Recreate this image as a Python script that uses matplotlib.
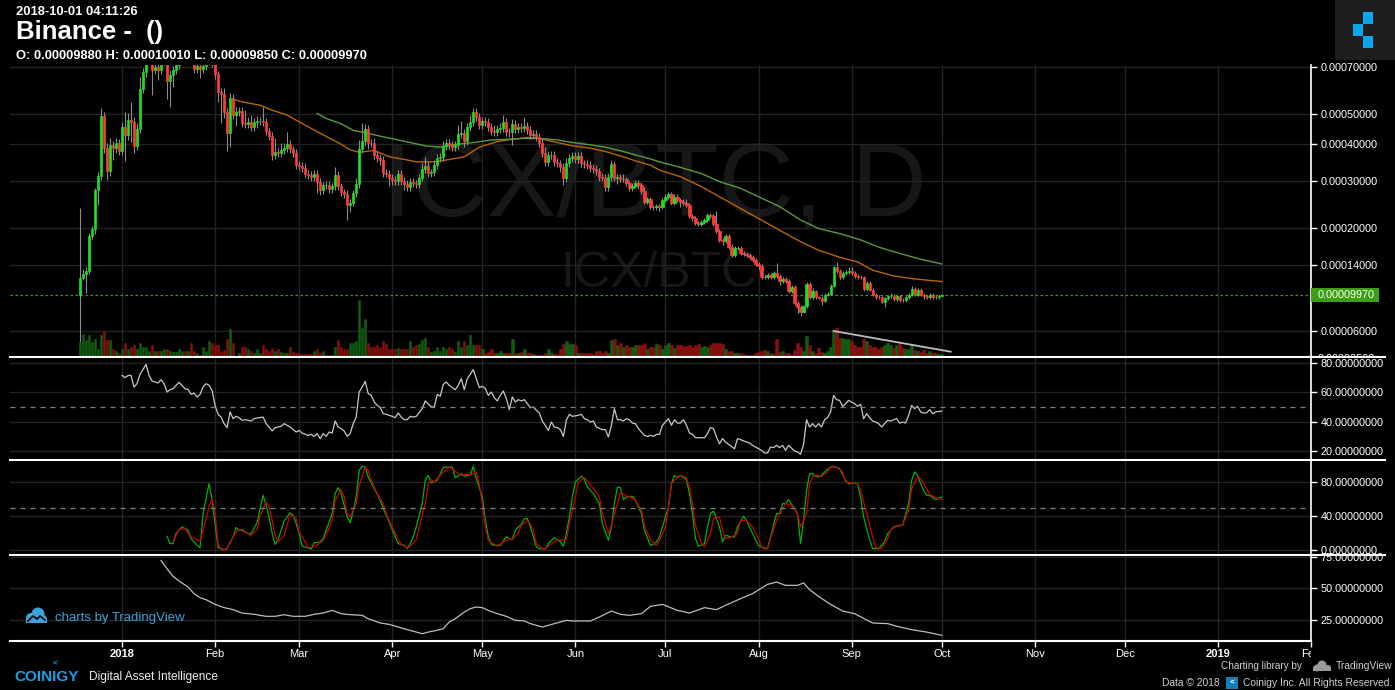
import numpy as np
import pandas as pd
import matplotlib
matplotlib.use('Agg')
import matplotlib.pyplot as plt
from matplotlib.patches import Rectangle, Circle
from matplotlib.lines import Line2D
from matplotlib.transforms import Affine2D, Bbox, TransformedBbox, IdentityTransform
from matplotlib.ticker import NullLocator, FormatStrFormatter

plt.rcParams['font.family'] = ['Liberation Sans', 'DejaVu Sans']

W, H = 1395, 690
START = pd.Timestamp('2018-01-01')

# ICX/BTC daily candles on Binance, 2017-12-18 .. 2018-10-01, prices in satoshi
first_open_sat = 9900
close_sat = [
    # Dec
    12100, 12600, 13100, 18600, 19800, 27800, 31200, 49500, 38900, 32400, 39800, 38900, 40400, 38000,
    # Jan
    45500, 42900, 47900, 47200, 39500, 44800, 60000, 67500, 74000, 76000, 68600, 70000, 68600, 73000, 75000, 63500,
    66200, 68500, 71000, 74000, 76000, 75000, 77000, 75000, 69000, 70500, 69000, 70500, 73000, 74000, 72000,
    # Feb
    66600, 58800, 58000, 50800, 43500, 56200, 49700, 50800, 51100, 46800, 46500, 47200, 45500, 47200, 47500, 47500,
    47200, 44200, 42600, 36800, 37700, 37400, 38300, 38900, 40100, 38600, 37400, 34000,
    # Mar
    33800, 33200, 31700, 31400, 30900, 31700, 29700, 27800, 28900, 29100, 28000, 28700, 31400, 28700, 27300, 26900,
    24500, 25000, 27100, 29200, 38600, 41100, 44800, 40500, 40300, 36800, 35900, 35400, 32000, 31800, 30800,
    # Apr
    30200, 30000, 31800, 30000, 29200, 28500, 29800, 29400, 29200, 30800, 32900, 33800, 32000, 32100, 34000, 35900,
    36300, 39500, 40500, 39800, 39100, 39800, 43300, 43500, 41100, 45600, 47300, 50900, 49100, 46300,
    # May
    47700, 47100, 45600, 44300, 44000, 45000, 45100, 47300, 44000, 43700, 46600, 44900, 45600, 45300, 45800, 44500,
    42900, 43300, 42200, 40500, 37300, 34900, 36800, 36900, 34900, 34500, 33500, 30600, 34500, 35900, 36600,
    # Jun
    35600, 36600, 34500, 34300, 34000, 33300, 33000, 32400, 30900, 30800, 28400, 31000, 34300, 30800, 31000, 30400,
    30400, 29400, 28200, 28800, 29500, 28900, 27500, 25200, 25700, 24100, 24000, 24300, 24200, 25600,
    # Jul
    26300, 26800, 25000, 26300, 25600, 25200, 25000, 24500, 22300, 21800, 20900, 20800, 21100, 21500, 22500, 22300,
    20800, 19500, 17900, 17800, 18600, 16800, 15400, 16500, 16600, 15700, 15600, 15400, 15200, 14700, 14100,
    # Aug
    13800, 12300, 12200, 12500, 12200, 12800, 12400, 11700, 12000, 11700, 10400, 11000, 9000, 8550, 8000, 8600,
    11300, 9700, 10400, 9650, 9600, 9250, 10000, 10100, 11100, 13600, 13100, 12300, 12800, 12900, 13100,
    # Sep
    12800, 12400, 12300, 12200, 10700, 11500, 10600, 10000, 9700, 9650, 9150, 9530, 9800, 9850, 9450, 9800,
    9340, 9300, 9650, 10000, 10700, 10000, 10600, 10000, 9800, 9700, 10000, 9700, 9650, 9880,
    # Oct
    9970,
]

# wick length above / below the body, percent
hi_wick_pct = [
    98, 6, 4, 3, 3, 2, 3, 6, 3, 4, 5, 3, 4, 3,
    4, 12, 5, 14, 4, 5, 9, 3, 3, 3, 3, 3, 3, 3, 3, 3, 3, 3, 3, 3, 5, 3, 4, 3, 3, 3, 3, 3, 3, 3, 3,
    3, 2, 3, 4, 3, 4, 3, 4, 3, 3, 10, 4, 5, 3, 4, 3, 11, 3, 2, 3, 11, 3, 5, 4, 9, 3, 2, 3,
    3, 3, 4, 3, 3, 3, 3, 3, 3, 3, 3, 3, 7, 3, 3, 3, 3, 3, 3, 5, 7, 14, 4, 3, 3, 4, 3, 3, 3, 3, 3,
    3, 3, 3, 3, 3, 3, 3, 3, 3, 3, 5, 7, 3, 3, 4, 3, 3, 4, 3, 3, 3, 3, 7, 9, 3, 3, 5, 3, 3, 3,
    3, 3, 3, 3, 4, 3, 4, 5, 3, 3, 4, 3, 3, 3, 7, 3, 3, 3, 3, 3, 3, 5, 3, 3, 3, 3, 3, 3, 4, 3, 3,
    3, 3, 3, 3, 3, 3, 3, 3, 3, 3, 3, 3, 3, 2, 2, 2, 4, 2, 2, 2, 2, 2, 2, 4, 2, 2, 2, 2, 2, 2,
    2, 2, 2, 2, 2, 2, 2, 3, 2, 2, 2, 2, 2, 2, 2, 2, 2, 12, 2, 2, 2, 2, 2, 2, 2, 2, 2, 2, 2, 2, 2,
    2, 2, 2, 2, 2, 2, 11, 2, 2, 2, 2, 2, 2, 2, 2, 2, 3, 2, 4, 2, 2, 2, 2, 2, 2, 2, 6, 2, 2, 2, 4,
    4, 2, 2, 2, 2, 2, 2, 2, 2, 2, 2, 2, 2, 3, 2, 2, 2, 2, 2, 2, 3, 2, 2, 2, 2, 2, 2, 2, 2, 2,
    0.4,
]
lo_wick_pct = [
    65, 2, 19, 3, 3, 4, 12, 3, 4, 7, 4, 9, 4, 3,
    3, 18, 4, 14, 5, 3, 3, 3, 3, 3, 16, 3, 7, 3, 3, 12, 17, 8, 3, 3, 3, 3, 3, 3, 3, 3, 6, 3, 3, 3, 3,
    3, 7, 19, 4, 13, 10, 3, 8, 3, 3, 3, 3, 3, 3, 4, 3, 3, 3, 3, 4, 3, 3, 3, 3, 3, 3, 3, 3,
    3, 3, 3, 3, 3, 3, 9, 4, 3, 3, 3, 3, 3, 3, 3, 3, 12, 6, 3, 3, 3, 3, 3, 5, 3, 3, 3, 4, 3, 3, 7,
    4, 3, 3, 3, 5, 3, 3, 3, 3, 3, 3, 3, 3, 3, 3, 3, 3, 3, 3, 3, 3, 3, 3, 3, 5, 3, 3, 3, 3, 3,
    3, 3, 3, 3, 3, 3, 3, 3, 3, 3, 9, 3, 3, 3, 3, 3, 3, 3, 3, 3, 3, 3, 3, 3, 3, 3, 4, 5, 3, 3, 3,
    3, 3, 3, 3, 3, 3, 3, 3, 3, 3, 3, 3, 3, 3, 5, 2, 2, 2, 2, 2, 2, 2, 2, 2, 2, 2, 2, 2, 4, 2,
    2, 2, 2, 2, 2, 4, 2, 2, 2, 2, 2, 2, 2, 2, 2, 2, 2, 2, 2, 4, 2, 2, 2, 2, 2, 2, 2, 2, 2, 2, 2,
    4, 2, 2, 2, 2, 2, 2, 4, 2, 2, 2, 2, 2, 8, 5, 2, 2, 2, 2, 2, 2, 5, 2, 2, 2, 2, 2, 2, 2, 2, 2,
    2, 2, 2, 2, 2, 2, 2, 2, 2, 2, 2, 7, 2, 2, 2, 2, 2, 2, 2, 2, 2, 2, 2, 2, 3, 2, 2, 2, 2, 2,
    0.3,
]

volume = [
    150, 227, 167, 223, 150, 177, 83, 217, 263, 167, 167, 77, 60, 43,
    77, 137, 77, 103, 123, 83, 143, 103, 103, 60, 123, 57, 57, 57, 77, 77, 57, 50, 50, 77, 57, 57, 57, 137, 57, 37,
    23, 103, 57, 157, 143,
    123, 123, 50, 70, 177, 283, 143, 10, 37, 97, 97, 83, 60, 37, 83, 43, 123, 77, 60, 90, 60, 77, 50, 37, 37, 97, 50, 37,
    43, 30, 30, 30, 30, 57, 77, 37, 57, 23, 23, 23, 103, 167, 103, 83, 83, 137, 137, 157, 570, 293, 383, 137, 103, 103,
    123, 103, 160, 127, 83,
    83, 83, 93, 83, 83, 83, 157, 103, 117, 127, 167, 193, 103, 50, 60, 103, 60, 103, 83, 103, 83, 50, 160, 103, 157,
    123, 217, 123, 117, 123,
    83, 43, 50, 83, 43, 43, 60, 43, 43, 37, 177, 43, 37, 50, 83, 43, 37, 30, 17, 17, 23, 37, 77, 43, 30, 30, 83, 127,
    157, 127, 127,
    117, 43, 37, 37, 37, 37, 30, 57, 57, 37, 60, 37, 170, 183, 123, 143, 103, 117, 103, 103, 117, 123, 117, 127, 77,
    103, 103, 127, 117, 83,
    117, 137, 117, 90, 117, 117, 110, 110, 117, 103, 117, 127, 103, 110, 103, 117, 137, 137, 137, 127, 77, 57, 60, 37,
    43, 37, 30, 17, 17, 23, 43,
    50, 57, 70, 60, 37, 30, 183, 50, 57, 37, 37, 23, 70, 137, 103, 60, 210, 117, 60, 43, 93, 50, 37, 60, 103, 260, 293,
    193, 193, 177, 183,
    160, 117, 103, 103, 183, 160, 117, 103, 103, 83, 103, 117, 143, 117, 90, 123, 143, 90, 77, 83, 127, 70, 60, 50,
    70, 43, 57, 43, 43, 30,
    30,
]

# indicator readings: (days since 2018-01-01, value)
ma_orange = [(37, 55700), (40, 54700), (46, 53400), (50, 51500), (55, 49700), (59, 47300), (64, 44500), (68, 42400),
             (73, 40000), (76, 38300), (79, 37600), (84, 38100), (89, 36300), (95, 35400), (98, 34900), (104, 34900),
             (108, 35400), (114, 36300), (119, 39100), (125, 40800), (130, 41500), (135, 42100), (139, 41800),
             (145, 40500), (150, 39500), (156, 38800), (161, 37800), (167, 36300), (172, 34900), (176, 34000),
             (179, 32700), (186, 31000), (193, 28600), (199, 26300), (206, 23800), (212, 21800), (219, 19600),
             (226, 17600), (232, 16200), (239, 15100), (245, 14400), (250, 13200), (257, 12400), (264, 12000),
             (269, 11800), (273, 11650)]
ma_green = [(65, 50300), (68, 48500), (73, 46600), (77, 44400), (82, 43400), (86, 42500), (91, 41500), (97, 40300),
            (101, 39500), (106, 39100), (110, 39800), (117, 40500), (123, 41300), (128, 41500), (134, 41800),
            (139, 41800), (145, 41300), (150, 40500), (156, 39800), (161, 39100), (167, 37800), (172, 36600),
            (176, 35700), (179, 34900), (186, 33400), (193, 31800), (199, 29800), (206, 28200), (212, 26300),
            (219, 24200), (226, 21500), (232, 19900), (239, 19000), (246, 17900), (252, 16700), (259, 15700),
            (266, 14800), (273, 14100)]

rsi = [(0, 71.6), (1, 70.0), (2, 71.4), (3, 71.6), (4, 63.6), (5, 65.9), (6, 72.3), (7, 75.5), (8, 79.1), (9, 71.6),
       (10, 67.7), (11, 67.0), (12, 66.4), (13, 68.6), (14, 65.9), (15, 60.2), (16, 61.8), (17, 62.5), (19, 66.8),
       (20, 64.8), (21, 62.3), (22, 62.0), (23, 58.6), (24, 59.5), (25, 56.8), (26, 58.6), (27, 63.6), (28, 65.9),
       (29, 64.8), (30, 61.3), (31, 51.1), (32, 45.0), (33, 43.1), (34, 38.6), (35, 35.9), (36, 46.6), (37, 42.0),
       (38, 43.6), (39, 42.7), (40, 40.9), (41, 41.3), (42, 40.9), (43, 40.4), (44, 42.0), (45, 42.5), (47, 43.1),
       (48, 38.6), (49, 36.3), (50, 33.6), (51, 35.9), (53, 36.8), (54, 38.6), (56, 36.3), (58, 32.9), (59, 34.0),
       (60, 32.2), (62, 30.6), (63, 31.3), (64, 29.9), (65, 31.8), (66, 28.4), (67, 31.8), (68, 29.9), (69, 32.9),
       (70, 32.2), (71, 40.4), (72, 36.3), (73, 35.2), (74, 33.6), (75, 29.9), (76, 31.8), (77, 38.6), (78, 43.1),
       (79, 60.2), (80, 63.6), (81, 67.5), (82, 59.1), (83, 57.9), (84, 53.4), (85, 51.1), (86, 49.5), (87, 45.4),
       (88, 45.0), (90, 43.6), (91, 42.7), (92, 45.9), (93, 43.1), (94, 41.3), (95, 41.3), (96, 43.6), (97, 43.1),
       (98, 43.6), (100, 48.8), (101, 54.1), (102, 52.2), (103, 50.0), (104, 50.0), (105, 58.6), (106, 57.3),
       (107, 65.4), (108, 67.0), (109, 64.8), (111, 61.8), (112, 64.8), (113, 69.3), (114, 61.8), (115, 69.3),
       (116, 72.3), (117, 75.5), (118, 69.3), (119, 63.2), (120, 64.1), (121, 62.5), (122, 57.9), (123, 60.2),
       (124, 56.3), (125, 54.1), (126, 57.9), (127, 60.9), (128, 55.7), (129, 48.2), (130, 56.8), (131, 53.4),
       (132, 55.0), (133, 54.1), (134, 55.0), (135, 52.2), (136, 49.5), (137, 50.0), (138, 47.7), (139, 45.9),
       (140, 40.4), (142, 34.0), (143, 39.7), (144, 36.3), (145, 35.9), (146, 34.5), (147, 29.9), (148, 40.9),
       (149, 45.0), (150, 43.6), (152, 44.3), (153, 45.0), (154, 42.0), (155, 41.3), (156, 39.7), (157, 40.4),
       (158, 36.3), (160, 34.5), (161, 34.5), (162, 29.5), (163, 37.5), (164, 48.8), (165, 41.3), (166, 41.3),
       (167, 40.4), (168, 42.0), (169, 41.3), (170, 39.0), (171, 38.6), (172, 35.2), (174, 30.6), (175, 29.9),
       (176, 30.6), (177, 29.9), (178, 31.3), (179, 31.3), (180, 37.5), (182, 42.0), (183, 37.5), (184, 41.3),
       (185, 39.0), (186, 39.0), (187, 41.3), (188, 37.5), (189, 32.2), (190, 31.3), (191, 29.0), (192, 29.0),
       (194, 29.0), (195, 31.8), (196, 35.9), (197, 35.2), (198, 29.5), (199, 24.9), (200, 28.4), (201, 26.1),
       (202, 24.5), (204, 21.5), (205, 28.4), (206, 27.7), (207, 26.8), (208, 26.1), (209, 25.4), (210, 23.8),
       (211, 22.7), (213, 20.4), (214, 18.6), (215, 18.6), (216, 22.7), (217, 22.2), (218, 23.8), (219, 22.2),
       (220, 23.8), (221, 20.4), (222, 23.8), (224, 19.9), (225, 19.3), (226, 17.7), (227, 24.5), (228, 41.3),
       (229, 36.3), (230, 38.6), (231, 36.3), (232, 38.6), (233, 36.3), (234, 41.3), (235, 42.7), (236, 46.6),
       (237, 57.9), (238, 55.0), (239, 54.5), (240, 50.4), (241, 52.2), (242, 54.5), (244, 52.2), (245, 50.4),
       (246, 51.8), (247, 42.0), (248, 45.4), (249, 42.7), (250, 40.4), (251, 39.7), (252, 38.6), (253, 36.3),
       (254, 38.6), (255, 40.9), (256, 40.4), (257, 41.3), (258, 42.0), (259, 39.0), (260, 39.7), (261, 39.0),
       (262, 44.3), (263, 51.1), (264, 48.8), (265, 50.4), (266, 46.6), (267, 45.9), (268, 45.9), (269, 48.2),
       (270, 45.4), (271, 46.6), (273, 47.2)]

stoch_k = [(15, 16.1), (16, 7.5), (17, 7.5), (18, 19.3), (20, 27.1), (22, 23.2), (23, 13.4), (25, 5.5), (26, 2.8),
           (27, 42.8), (29, 78.1), (30, 58.5), (31, 31.0), (32, 2.8), (33, 1.6), (34, 0.4), (35, 1.6), (37, 15.3),
           (38, 26.3), (39, 23.2), (40, 24.0), (42, 19.3), (43, 19.3), (45, 31.8), (46, 48.7), (47, 64.4), (48, 52.6),
           (49, 38.9), (50, 20.0), (51, 6.7), (52, 12.2), (53, 23.2), (54, 34.2), (56, 43.6), (57, 40.9), (58, 31.0),
           (59, 19.3), (60, 4.3), (61, 3.6), (63, 1.2), (64, 8.3), (66, 9.5), (67, 13.4), (68, 23.2), (70, 42.8),
           (71, 66.3), (72, 73.4), (73, 66.3), (75, 38.9), (76, 31.8), (77, 45.9), (78, 62.4), (79, 93.8), (80, 98.5),
           (81, 97.7), (82, 85.9), (84, 72.2), (86, 58.5), (87, 48.7), (89, 33.0), (91, 15.3), (92, 7.5), (94, 5.5),
           (95, 1.6), (96, 7.5), (97, 15.3), (98, 27.1), (100, 54.5), (101, 82.0), (102, 87.9), (103, 78.9),
           (105, 82.0), (106, 89.8), (107, 96.9), (108, 97.7), (110, 97.7), (111, 85.1), (113, 89.8), (114, 86.7),
           (115, 87.9), (116, 87.9), (117, 98.5), (118, 84.0), (120, 62.4), (121, 35.0), (122, 16.1), (123, 6.7),
           (124, 5.5), (126, 5.5), (128, 15.3), (129, 13.4), (130, 12.2), (131, 23.2), (133, 30.2), (134, 36.9),
           (135, 36.9), (136, 27.1), (138, 3.6), (139, 1.6), (141, 1.2), (142, 7.5), (144, 14.5), (146, 9.5),
           (147, 4.3), (148, 19.3), (149, 38.9), (150, 62.4), (151, 80.0), (153, 86.7), (154, 82.8), (155, 74.2),
           (157, 66.3), (159, 54.5), (160, 31.0), (162, 11.4), (163, 27.1), (164, 54.5), (165, 74.2), (166, 73.4),
           (167, 59.3), (168, 62.4), (170, 63.2), (171, 58.5), (173, 42.8), (174, 23.2), (176, 5.5), (177, 6.7),
           (178, 9.5), (179, 15.3), (180, 27.1), (182, 50.6), (183, 78.1), (184, 87.9), (185, 85.1), (186, 87.9),
           (187, 85.1), (188, 82.8), (189, 66.3), (190, 42.8), (191, 13.4), (192, 4.3), (194, 7.5), (195, 27.1),
           (196, 42.8), (197, 45.9), (199, 27.1), (200, 9.5), (201, 17.3), (203, 15.3), (204, 15.3), (205, 27.1),
           (207, 39.6), (208, 34.9), (209, 27.1), (211, 12.2), (212, 5.5), (214, 1.6), (215, 1.6), (216, 15.3),
           (218, 42.8), (219, 42.8), (220, 54.5), (221, 54.5), (222, 59.3), (224, 48.7), (225, 42.8), (226, 7.5),
           (227, 34.9), (228, 70.2), (229, 89.8), (230, 89.8), (231, 86.7), (232, 85.9), (233, 87.9), (234, 91.8),
           (236, 97.7), (237, 98.5), (239, 95.7), (241, 82.0), (242, 78.1), (244, 78.9), (245, 78.1), (246, 62.4),
           (247, 38.9), (249, 12.2), (250, 1.6), (252, 1.6), (254, 9.5), (255, 19.3), (257, 27.1), (259, 29.1),
           (260, 29.1), (262, 54.5), (263, 82.0), (264, 91.8), (265, 87.9), (266, 78.1), (267, 70.2), (268, 64.4),
           (269, 64.4), (271, 59.3), (273, 62.4)]

stoch_d = [(17, 9.5), (19, 24.0), (21, 25.1), (22, 19.3), (24, 13.4), (26, 10.6), (27, 23.2), (29, 50.6), (30, 60.4),
           (31, 42.8), (32, 7.5), (33, 0.4), (35, 0.4), (36, 9.5), (38, 21.2), (39, 24.0), (40, 22.4), (42, 19.3),
           (43, 17.3), (45, 24.0), (46, 40.8), (48, 56.5), (49, 51.4), (50, 35.0), (51, 17.3), (52, 9.5), (54, 17.3),
           (55, 29.1), (56, 42.0), (58, 36.9), (59, 21.2), (61, 9.5), (62, 2.8), (64, 3.6), (66, 8.3), (67, 11.4),
           (68, 17.3), (70, 35.0), (71, 58.5), (73, 71.0), (74, 62.4), (75, 42.8), (76, 38.9), (78, 54.5), (79, 76.1),
           (81, 97.7), (82, 93.8), (83, 82.0), (85, 66.3), (87, 54.5), (88, 42.8), (90, 27.1), (92, 12.2), (93, 6.7),
           (95, 2.8), (96, 4.3), (98, 12.2), (99, 27.1), (101, 54.5), (102, 78.1), (103, 82.8), (104, 80.0),
           (105, 84.0), (107, 91.8), (109, 97.7), (110, 95.7), (112, 89.8), (113, 87.9), (115, 89.1), (116, 87.9),
           (118, 91.8), (119, 78.1), (120, 54.5), (121, 27.1), (122, 11.4), (124, 6.7), (125, 4.3), (127, 9.5),
           (129, 13.4), (130, 12.2), (132, 20.0), (133, 29.1), (135, 34.2), (136, 31.0), (137, 23.2), (138, 7.5),
           (140, 1.6), (141, 1.6), (143, 7.5), (145, 12.2), (146, 11.4), (148, 12.2), (149, 31.0), (151, 62.4),
           (152, 80.0), (154, 85.1), (155, 81.2), (157, 72.2), (159, 62.4), (160, 42.8), (162, 19.3), (163, 29.1),
           (165, 54.5), (166, 68.3), (168, 63.2), (169, 63.2), (171, 58.5), (173, 46.7), (174, 29.1), (176, 11.4),
           (178, 5.5), (179, 11.4), (181, 27.1), (182, 50.6), (183, 78.1), (185, 85.9), (186, 87.9), (188, 85.1),
           (189, 74.2), (190, 54.5), (191, 29.1), (193, 7.5), (194, 3.6), (196, 19.3), (197, 36.9), (199, 38.9),
           (200, 23.2), (201, 13.4), (203, 15.3), (205, 19.3), (206, 34.9), (208, 34.9), (210, 27.1), (212, 13.4),
           (213, 3.6), (215, 1.6), (216, 13.4), (218, 34.9), (220, 48.7), (221, 54.5), (223, 52.6), (225, 42.8),
           (226, 27.1), (228, 42.8), (229, 78.1), (230, 85.9), (231, 87.9), (233, 86.7), (235, 91.8), (236, 97.7),
           (238, 97.7), (240, 91.8), (241, 80.0), (243, 78.9), (245, 78.1), (246, 70.2), (248, 42.8), (250, 15.3),
           (251, 2.8), (253, 1.6), (255, 13.4), (256, 24.0), (258, 27.9), (260, 29.1), (262, 46.7), (263, 72.2),
           (265, 86.7), (266, 84.0), (268, 72.2), (269, 65.5), (271, 61.6), (273, 59.3)]

adx = [(13, 72.3), (15, 65.7), (17, 59.6), (19, 55.9), (22, 51.2), (24, 45.9), (26, 42.7), (28, 41.1), (31, 37.4),
       (34, 34.8), (37, 33.2), (40, 30.5), (44, 29.5), (48, 27.9), (51, 27.9), (54, 29.2), (57, 27.9), (61, 27.9),
       (64, 29.5), (67, 30.5), (70, 32.6), (73, 30.0), (76, 29.2), (80, 28.7), (82, 26.0), (86, 22.6), (89, 21.5),
       (92, 19.4), (95, 17.3), (98, 15.4), (100, 14.1), (102, 15.4), (105, 16.8), (107, 18.1), (109, 23.4),
       (111, 26.0), (114, 31.3), (116, 34.0), (118, 35.3), (120, 34.8), (122, 32.6), (125, 30.0), (128, 27.9),
       (131, 24.7), (134, 24.2), (136, 22.1), (140, 19.4), (144, 22.1), (148, 24.7), (150, 24.2), (156, 24.2),
       (159, 27.4), (163, 32.1), (166, 29.5), (169, 28.7), (173, 30.0), (176, 35.8), (180, 37.4), (185, 32.6),
       (189, 30.5), (194, 34.8), (198, 33.2), (201, 36.6), (206, 41.9), (210, 45.9), (215, 53.3), (218, 55.1),
       (221, 52.5), (225, 52.5), (227, 54.4), (229, 49.1), (232, 43.7), (236, 37.4), (240, 32.1), (244, 30.0),
       (250, 22.6), (255, 22.1), (258, 20.0), (263, 17.3), (268, 15.4), (273, 12.8)]

# trend line drawn over the volume bars
vol_trend = [(237, 260), (276, 53)]

price_ticks = [0.00006, 0.00014, 0.0002, 0.0003, 0.0004, 0.0005, 0.0007]
rsi_ticks = [20, 40, 60, 80]
stoch_ticks = [0, 40, 80]
adx_ticks = [25, 50, 75]

assert len(close_sat) == len(hi_wick_pct) == len(lo_wick_pct) == len(volume) == 288

# ---- build candles ----
close = np.array(close_sat) * 1e-8
open_ = np.concatenate([[first_open_sat * 1e-8], close[:-1]])
high = np.maximum(open_, close) * (1 + np.array(hi_wick_pct) / 100)
low = np.minimum(open_, close) * (1 - np.array(lo_wick_pct) / 100)
dates = pd.date_range('2017-12-18', periods=len(close), freq='D')
days = np.asarray((dates - START).days)
up = close >= open_


def xy(pts, scale=1.0):
    d, v = zip(*pts)
    return np.array(d), np.array(v) * scale


# ---- figure & panels ----
fig = plt.figure(figsize=(W / 100, H / 100), dpi=100, facecolor='black')


def panel(top, bottom, **kw):
    return fig.add_axes([10 / W, 1 - bottom / H, 1301 / W, (bottom - top) / H], **kw)


ax1 = panel(65, 357)
ax2 = panel(357, 460, sharex=ax1)
ax3 = panel(460, 555, sharex=ax1)
ax4 = panel(555, 641, sharex=ax1)
axv = ax1.twinx()

GRID = '#232323'
for ax in (ax1, ax2, ax3, ax4):
    ax.set_facecolor('black')
    for s in ('top', 'left', 'bottom'):
        ax.spines[s].set_visible(False)
    ax.spines['right'].set_color('white')
    ax.spines['right'].set_linewidth(1.2)
    ax.yaxis.tick_right()
    ax.tick_params(axis='y', colors='white', length=4, width=1, pad=3, labelsize=7.8)
    ax.tick_params(axis='x', bottom=False, labelbottom=False)
    ax.grid(True, color=GRID, lw=1)
    ax.set_axisbelow(True)
    ax.yaxis.set_major_formatter(FormatStrFormatter('%.8f'))
    ax.yaxis.set_minor_locator(NullLocator())

ax1.set_xlim(-37.3, 396.0)

# price scale: logarithmic with an offset
SHIFT = 1e-4
ax1.set_yscale('function', functions=(lambda p: np.log10(np.asarray(p) + SHIFT),
                                      lambda v: 10 ** np.asarray(v) - SHIFT))
ax1.set_ylim(3.67e-5, 7.1e-4)
ax1.set_yticks(price_ticks)
ax1.yaxis.set_minor_locator(NullLocator())
ax1.yaxis.set_major_formatter(FormatStrFormatter('%.8f'))

# watermark
ax1.text(0.496, 0.486, 'ICX/BTC, D', transform=ax1.transAxes, ha='center', va='baseline',
         fontsize=75, color='#171717', zorder=0)
ax1.text(0.499, 0.24, 'ICX/BTC', transform=ax1.transAxes, ha='center', va='baseline',
         fontsize=36, color='#171717', zorder=0)

# moving averages
d, v = xy(ma_orange, 1e-8)
ax1.plot(d, v, color='#b8650a', lw=1, zorder=2)
d, v = xy(ma_green, 1e-8)
ax1.plot(d, v, color='#5b9a3c', lw=1, zorder=2)

# candles
GREEN, RED = '#22dd22', '#ff3d3d'
body_col = np.where(up, GREEN, RED)
ax1.vlines(days, low, high, color='#8c8c8c', lw=0.8, zorder=3)
ax1.bar(days, np.abs(close - open_), bottom=np.minimum(open_, close), width=0.72,
        color=body_col, edgecolor=body_col, lw=0.5, zorder=4)

# last price line
ax1.axhline(close[-1], color='#3c9e14', lw=0.9, ls=(0, (2, 2)), zorder=2)

# volume
axv.set_ylim(0, 2920)
axv.set_yticks([])
for s in axv.spines.values():
    s.set_visible(False)
axv.patch.set_visible(False)
vol_col = np.where(up, '#115c11', '#841010')
axv.bar(days, volume, width=0.8, color=vol_col, edgecolor=vol_col, lw=0.4)
d, v = xy(vol_trend)
axv.plot(d, v, color='#bdbdbd', lw=1.3)

# RSI
d, v = xy(rsi)
ax2.plot(d, v, color='#c8c8c8', lw=0.9)
ax2.axhline(50, color='#808080', lw=0.9, ls=(0, (4, 4)))
ax2.set_ylim(13.8, 84.1)
ax2.set_yticks(rsi_ticks)

# Stochastic RSI
d, v = xy(stoch_k)
ax3.plot(d, v, color='#00b400', lw=0.9)
d, v = xy(stoch_d)
ax3.plot(d, v, color='#cc0000', lw=0.9)
ax3.axhline(50, color='#808080', lw=0.9, ls=(0, (4, 4)))
ax3.set_ylim(-5.9, 105.9)
ax3.set_yticks(stoch_ticks)

# ADX
d, v = xy(adx)
ax4.plot(d, v, color='#bdbdbd', lw=0.9)
ax4.set_ylim(8.3, 76.6)
ax4.set_yticks(adx_ticks)

# month axis
months = pd.date_range('2018-01-01', '2019-02-01', freq='MS')
month_days = np.asarray((months - START).days)
month_labels = [str(m.year) if m.month == 1 else m.strftime('%b') for m in months]
ax4.set_xticks(month_days)
ax4.set_xticklabels(month_labels)
ax4.spines['bottom'].set_visible(True)
ax4.spines['bottom'].set_color('white')
ax4.spines['bottom'].set_linewidth(1.5)
ax4.tick_params(axis='x', bottom=True, labelbottom=True, colors='white', length=4, width=1,
                labelsize=8, pad=2)
clip = TransformedBbox(Bbox([[0, 0], [1311 / W, 1]]), fig.transFigure)
for lbl, m in zip(ax4.get_xticklabels(), months):
    if m.month == 1:
        lbl.set_fontweight('bold')
    lbl.set_clip_box(clip)
    lbl.set_clip_on(True)

# panel separators
for y in (357, 460, 555):
    fig.add_artist(Line2D([10 / W, 1385 / W], [1 - y / H] * 2, color='white', lw=1.5))

# ---- overlays in pixel coordinates ----
img = Affine2D().scale(1, -1).translate(0, H)


def text(x, y, s, size, color='white', weight='normal', ha='left', **kw):
    return fig.text(x / W, 1 - y / H, s, fontsize=size, color=color, fontweight=weight,
                    ha=ha, va='center', **kw)


def box(x, y, w, h, color):
    fig.add_artist(Rectangle((x, y), w, h, transform=img, facecolor=color, edgecolor='none'))


# current price tag
y_last = ax1.transData.transform((0, close[-1]))[1]
fig.add_artist(Rectangle((1311, y_last - 7), 68, 14, transform=IdentityTransform(),
                         facecolor='#3c9e14', edgecolor='none'))
fig.text(1318 / W, y_last / H, f'{close[-1]:.8f}', fontsize=7.8, color='white', va='center')

# bottom price label, cut off by the separator
y_low = ax1.transData.transform((0, 3.5e-5))[1]
t = fig.text(1318 / W, y_low / H, '0.00003500', fontsize=7.8, color='white', va='center')
t.set_clip_box(TransformedBbox(Bbox([[1300, H - 357], [W, H]]), IdentityTransform()))
t.set_clip_on(True)

# header
text(16, 12, '2018-10-01 04:11:26', 9.4, weight='bold')
text(16, 32, 'Binance -  ()', 18.5, weight='bold')
text(16, 56, f'O: {open_[-1]:.8f} H: {high[-1]:.8f} L: {low[-1]:.8f} C: {close[-1]:.8f}', 9.3, weight='bold')

# top-right logo
box(1335, 0, 60, 60, '#1e1e1e')
for bx, by in ((1363, 12), (1353, 24), (1363, 36)):
    box(bx, by, 10, 12, '#0aa6ea')

# "charts by TradingView"
TV_BLUE = '#3ba3dc'
for cx, cy, r in ((31, 618, 5), (38, 614, 6.5), (43, 619, 4)):
    fig.add_artist(Circle((cx, cy), r, transform=img, facecolor=TV_BLUE, edgecolor='none'))
box(26, 618, 21, 5, TV_BLUE)
fig.add_artist(Line2D([28, 33, 37, 40, 45], [621, 616, 619, 616, 620], transform=img, color='black', lw=1.2))
text(55, 618, 'charts by TradingView', 9.5, color=TV_BLUE)

# footer
text(14, 677, 'COINIGY', 11, color='#1ba1e2', weight='bold')
text(52.5, 664, '<', 6, color='#1ba1e2', weight='bold')
text(89, 677, 'Digital Asset Intelligence', 8.6, color='#eeeeee')
text(1302, 666, 'Charting library by', 7.2, color='#cfcfcf', ha='right')
for cx, cy, r in ((1317, 668, 3.5), (1322, 665, 4.5), (1328, 668, 3)):
    fig.add_artist(Circle((cx, cy), r, transform=img, facecolor='#9a9a9a', edgecolor='none'))
box(1313, 667, 18, 4, '#9a9a9a')
text(1336, 666, 'TradingView', 7.4, color='#cfcfcf')
text(1162, 683, 'Data \u00a9 2018', 7.4, color='#cfcfcf')
box(1226, 677, 12, 12, '#0e7fb8')
text(1229.5, 683, '<', 6, color='white', weight='bold')
text(1243, 683, 'Coinigy Inc. All Rights Reserved.', 7.4, color='#cfcfcf')

fig.savefig('out.png', dpi=100, facecolor='black')
